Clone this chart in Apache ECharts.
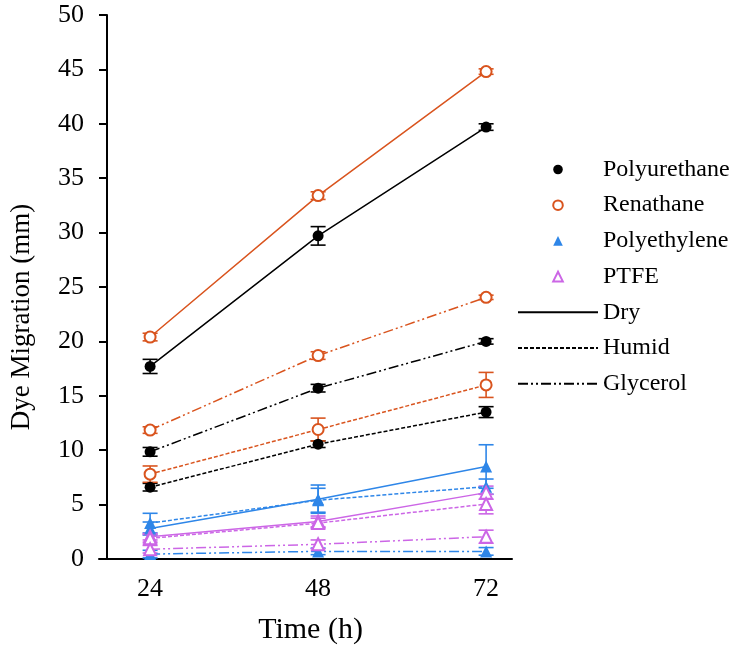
<!DOCTYPE html>
<html lang="en">
<head>
    <meta charset="UTF-8">
    <title>Dye Migration</title>
    <style>
        html,body{
            width: 100%;
            height: 100%;
            margin: 0;
            padding: 0;
            background: #fff;
        }
    </style>
</head>
<body>
<div id="main" style="width: 734px;height:651px;"></div>

<script src="https://cdn.jsdelivr.net/npm/echarts@6/dist/echarts.min.js"></script>
<script>
    // time points (h)
    var times = [24, 48, 72];
    var materials = ['Polyurethane', 'Renathane', 'Polyethylene', 'PTFE'];
    var conditions = ['Dry', 'Humid', 'Glycerol'];

    // mean dye migration (mm), order: Dry, Humid, Glycerol
    var puDry = [17.7, 29.7, 39.7];
    var puHumid = [6.6, 10.55, 13.5];
    var puGly = [9.85, 15.7, 20.0];
    var reDry = [20.4, 33.4, 44.8];
    var reHumid = [7.8, 11.9, 16.0];
    var reGly = [11.85, 18.7, 24.05];
    var peDry = [2.8, 5.5, 8.5];
    var peHumid = [3.3, 5.4, 6.65];
    var peGly = [0.45, 0.7, 0.7];
    var ptDry = [2.05, 3.45, 6.1];
    var ptHumid = [1.9, 3.3, 5.05];
    var ptGly = [0.9, 1.35, 2.05];

    // error (+/-)
    var puDryErr = [0.65, 0.85, 0.3];
    var puHumidErr = [0.35, 0.3, 0.5];
    var puGlyErr = [0.4, 0.35, 0.25];
    var reDryErr = [0.35, 0.35, 0.25];
    var reHumidErr = [0.75, 1.05, 1.15];
    var reGlyErr = [0.3, 0.35, 0.2];
    var peDryErr = [0.6, 1.3, 2.0];
    var peHumidErr = [0.9, 1.1, 0.7];
    var peGlyErr = [0.35, 0.3, 0.35];
    var ptDryErr = [0.3, 0.5, 0.6];
    var ptHumidErr = [0.35, 0.45, 0.9];
    var ptGlyErr = [0.35, 0.4, 0.6];

    var colors = ['#000000', '#D9541E', '#2E86E8', '#CC66E6'];
    var symbols = ['circle', 'emptyCircle', 'triangle', 'emptyTriangle'];
    var dashTypes = ['solid', [4, 2], [10, 3, 2, 3, 2, 3]];

    var values = [
        [puDry, puHumid, puGly],
        [reDry, reHumid, reGly],
        [peDry, peHumid, peGly],
        [ptDry, ptHumid, ptGly]
    ];
    var errors = [
        [puDryErr, puHumidErr, puGlyErr],
        [reDryErr, reHumidErr, reGlyErr],
        [peDryErr, peHumidErr, peGlyErr],
        [ptDryErr, ptHumidErr, ptGlyErr]
    ];

    var font = 'Liberation Serif';
    var series = [];

    // error bars drawn with custom series
    function errorBar(color) {
        return function (params, api) {
            var x = api.value(0);
            var hi = api.coord([x, api.value(1) + api.value(2)]);
            var lo = api.coord([x, api.value(1) - api.value(2)]);
            var w = 7.5;
            var style = {stroke: color, lineWidth: 1.6};
            return {
                type: 'group',
                children: [
                    {type: 'line', shape: {x1: hi[0], y1: hi[1], x2: lo[0], y2: lo[1]}, style: style},
                    {type: 'line', shape: {x1: hi[0] - w, y1: hi[1], x2: hi[0] + w, y2: hi[1]}, style: style},
                    {type: 'line', shape: {x1: lo[0] - w, y1: lo[1], x2: lo[0] + w, y2: lo[1]}, style: style}
                ]
            };
        };
    }

    materials.forEach(function (m, i) {
        conditions.forEach(function (c, j) {
            var pts = times.map(function (t, k) { return [t, values[i][j][k]]; });
            var errPts = times.map(function (t, k) { return [t, values[i][j][k], errors[i][j][k]]; });
            series.push({
                type: 'custom',
                name: m + ' ' + c + ' err',
                renderItem: errorBar(colors[i]),
                data: errPts,
                z: 2,
                silent: true
            });
            series.push({
                type: 'line',
                name: m + ' ' + c,
                data: pts,
                symbol: symbols[i],
                symbolSize: i < 2 ? 11 : 12,
                showAllSymbol: true,
                itemStyle: {color: colors[i], borderWidth: 1.6},
                lineStyle: {color: colors[i], width: 1.5, type: dashTypes[j]},
                z: 3,
                silent: true,
                animation: false
            });
        });
    });

    // legend-only series
    materials.forEach(function (m, i) {
        series.push({
            type: 'line', name: m, data: [],
            symbol: symbols[i], symbolSize: 10,
            itemStyle: {color: colors[i], borderWidth: 1.6},
            lineStyle: {width: 0, opacity: 0}
        });
    });
    conditions.forEach(function (c, j) {
        series.push({
            type: 'line', name: c, data: [],
            symbol: 'none',
            itemStyle: {color: '#000', opacity: 0},
            lineStyle: {color: '#000', width: 1.5, type: dashTypes[j]}
        });
    });

    var legendData = materials.map(function (m) { return {name: m}; })
        .concat(conditions.map(function (c) { return {name: c, itemStyle: {opacity: 0}}; }));

    var myChart = echarts.init(document.getElementById('main'));
    myChart.setOption({
        animation: false,
        grid: {left: 98, right: 222, top: 15, bottom: 92},
        legend: {
            orient: 'vertical',
            left: 512,
            top: 152,
            itemWidth: 80,
            itemHeight: 12,
            itemGap: 10.7,
            data: legendData,
            textStyle: {fontFamily: font, fontSize: 24, color: '#000', lineHeight: 25}
        },
        xAxis: {
            type: 'value',
            min: 16.7,
            max: 75.7,
            name: 'Time (h)',
            nameLocation: 'middle',
            nameGap: 56,
            nameTextStyle: {fontFamily: font, fontSize: 30, color: '#000', padding: [0, 0, 0, 10]},
            axisLine: {lineStyle: {color: '#000', width: 2}},
            axisTick: {show: false},
            splitLine: {show: false},
            axisLabel: {
                customValues: times,
                margin: 17,
                fontFamily: font, fontSize: 26, color: '#000'
            }
        },
        yAxis: {
            type: 'value',
            min: 0,
            max: 50,
            interval: 5,
            offset: -8,
            name: 'Dye Migration (mm)',
            nameLocation: 'middle',
            nameGap: 72,
            nameTextStyle: {fontFamily: font, fontSize: 27, color: '#000', padding: [0, 60, 0, 0]},
            axisLine: {show: true, lineStyle: {color: '#000', width: 2}},
            axisTick: {show: true, length: 8, lineStyle: {color: '#000', width: 2}},
            splitLine: {show: false},
            axisLabel: {margin: 23, fontFamily: font, fontSize: 26, color: '#000'}
        },
        series: series
    });
</script>
</body>
</html>
